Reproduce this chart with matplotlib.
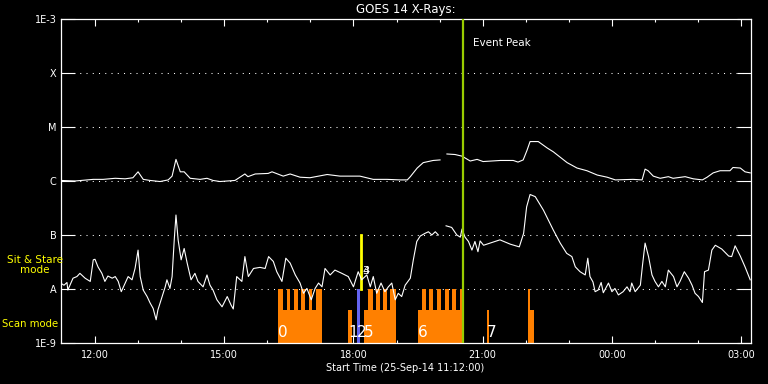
import matplotlib
matplotlib.use("Agg") #no display
import matplotlib.pyplot as plt
from matplotlib.ticker import FixedLocator, NullLocator
import numpy as np

# time in UT hours since 25-Sep-14 00:00 (values > 24 are next day), flux as log10(W/m^2)
long_t = [11.20, 11.54, 11.96, 12.19, 12.47, 12.70, 12.88, 13.00, 13.12, 13.28, 13.51, 13.70,
          13.79, 13.88, 13.98, 14.07, 14.21, 14.44, 14.60, 14.74, 14.90, 15.25, 15.48, 15.55,
          15.72, 16.02, 16.11, 16.37, 16.53, 16.76, 16.99, 17.39, 17.69, 18.15, 18.46, 18.78,
          19.08, 19.25, 19.32, 19.48, 19.62, 19.85, 20.01, 20.08, 20.17, 20.36, 20.52, 20.71,
          20.87, 21.01, 21.41, 21.71, 21.82, 21.94, 22.03, 22.10, 22.29, 22.50, 22.64, 22.80,
          22.96, 23.19, 23.42, 23.66, 23.89, 24.08, 24.49, 24.70, 24.77, 24.84, 24.96, 25.12,
          25.31, 25.42, 25.70, 25.89, 26.10, 26.21, 26.35, 26.51, 26.74, 26.81, 26.98, 27.09,
          27.21]
long_log = [-5.99, -6.00, -5.97, -5.97, -5.95, -5.96, -5.94, -5.83, -5.97, -5.99, -6.01, -5.98,
            -5.91, -5.60, -5.83, -5.83, -5.95, -5.97, -5.95, -5.99, -6.01, -5.99, -5.87, -5.92,
            -5.87, -5.86, -5.83, -5.91, -5.87, -5.93, -5.94, -5.88, -5.91, -5.91, -5.97, -5.97,
            -5.98, -5.98, -5.92, -5.76, -5.66, -5.62, -5.61, np.nan, -5.50, -5.51, -5.54, -5.63,
            -5.60, -5.64, -5.62, -5.62, -5.65, -5.61, -5.43, -5.27, -5.27, -5.39, -5.46, -5.56,
            -5.66, -5.76, -5.81, -5.89, -5.93, -5.98, -5.97, -5.98, -5.78, -5.81, -5.91, -5.95,
            -5.92, -5.95, -5.92, -5.96, -5.98, -5.93, -5.85, -5.81, -5.81, -5.75, -5.76, -5.83,
            -5.85]

short_t = [11.20, 11.28, 11.35, 11.37, 11.42, 11.49, 11.58, 11.65, 11.77, 11.89, 11.96, 12.00,
           12.07, 12.16, 12.23, 12.30, 12.40, 12.47, 12.54, 12.61, 12.70, 12.77, 12.86, 12.93,
           13.00, 13.05, 13.12, 13.21, 13.28, 13.35, 13.42, 13.46, 13.56, 13.63, 13.67, 13.74,
           13.79, 13.84, 13.88, 13.93, 14.00, 14.07, 14.14, 14.23, 14.32, 14.39, 14.51, 14.60,
           14.67, 14.74, 14.83, 14.95, 15.07, 15.16, 15.21, 15.29, 15.41, 15.48, 15.56, 15.68,
           15.83, 15.95, 16.03, 16.14, 16.22, 16.34, 16.43, 16.53, 16.65, 16.76, 16.84, 16.92,
           17.02, 17.11, 17.19, 17.27, 17.34, 17.46, 17.57, 17.73, 17.88, 18.00, 18.11, 18.19,
           18.31, 18.39, 18.46, 18.54, 18.64, 18.73, 18.81, 18.89, 18.97, 19.04, 19.12, 19.20,
           19.32, 19.39, 19.47, 19.55, 19.66, 19.74, 19.82, 19.90, 19.97, 20.08, 20.15, 20.28,
           20.40, 20.48, 20.52, 20.59, 20.67, 20.75, 20.82, 20.89, 20.94, 21.02, 21.17, 21.40,
           21.64, 21.85, 21.95, 22.02, 22.10, 22.22, 22.41, 22.64, 22.80, 22.95, 23.07, 23.15,
           23.26, 23.38, 23.44, 23.49, 23.56, 23.61, 23.68, 23.75, 23.80, 23.92, 24.00, 24.07,
           24.15, 24.26, 24.35, 24.42, 24.46, 24.54, 24.66, 24.71, 24.77, 24.85, 24.93, 25.00,
           25.08, 25.16, 25.24, 25.31, 25.43, 25.51, 25.58, 25.68, 25.78, 25.86, 25.93, 26.01,
           26.10, 26.15, 26.24, 26.32, 26.40, 26.55, 26.71, 26.78, 26.86, 26.98, 27.09, 27.21]
short_log = [-7.89, -7.93, -7.88, -8.02, -7.93, -7.80, -7.77, -7.71, -7.80, -7.86, -7.46, -7.45,
             -7.59, -7.71, -7.86, -7.76, -7.80, -7.77, -7.86, -8.05, -7.89, -7.77, -7.83, -7.62,
             -7.28, -7.77, -8.02, -8.14, -8.26, -8.36, -8.57, -8.39, -8.14, -7.96, -7.83, -7.99,
             -7.77, -7.09, -6.63, -7.09, -7.46, -7.25, -7.52, -7.83, -7.71, -7.86, -7.96, -7.74,
             -7.93, -8.02, -8.20, -8.33, -8.14, -8.30, -8.37, -7.77, -7.86, -7.40, -7.77, -7.62,
             -7.60, -7.62, -7.40, -7.49, -7.68, -7.86, -7.43, -7.52, -7.74, -7.89, -8.08, -7.99,
             -8.20, -7.99, -7.89, -7.96, -7.62, -7.74, -7.65, -7.71, -7.77, -7.96, -7.68, -7.83,
             -7.74, -7.96, -7.77, -8.08, -7.89, -8.05, -7.96, -7.89, -8.20, -8.08, -8.14, -7.93,
             -7.80, -7.46, -7.12, -7.02, -6.97, -6.94, -7.00, -6.94, -7.00, np.nan, -6.83, -6.86,
             -7.00, -7.04, -6.89, -7.04, -7.12, -7.28, -7.12, -7.31, -7.11, -7.19, -7.15, -7.09,
             -7.17, -7.22, -6.97, -6.48, -6.25, -6.29, -6.54, -6.91, -7.15, -7.34, -7.40, -7.59,
             -7.68, -7.74, -7.43, -7.77, -7.87, -8.05, -8.02, -7.88, -8.07, -7.89, -8.05, -7.99,
             -8.11, -8.05, -7.96, -8.05, -7.89, -8.05, -7.93, -7.56, -7.15, -7.40, -7.74, -7.86,
             -7.96, -7.86, -7.96, -7.65, -7.77, -7.96, -7.86, -7.68, -7.80, -7.93, -8.08, -8.14,
             -8.25, -7.68, -7.65, -7.28, -7.19, -7.26, -7.39, -7.40, -7.20, -7.39, -7.59, -7.83]

# observation blocks (hours)
scan_start = [16.250, 17.882, 18.247, 19.490, 21.103, 22.061]
scan_end = [17.272, 17.968, 18.990, 20.575, 21.149, 22.194]
stare_start = [16.250, 16.452, 16.622, 16.791, 16.963, 17.139, 18.340, 18.518, 18.688, 18.857,
               19.583, 19.763, 19.941, 20.120, 20.297, 20.476, 22.061]
stare_end = [16.359, 16.536, 16.714, 16.877, 17.046, 17.272, 18.449, 18.618, 18.788, 18.990,
             19.676, 19.856, 20.034, 20.213, 20.390, 20.575, 22.101]
obs_labels = ["0", "1", "2", "5", "6", "7"]
obs_label_t = [16.250, 17.882, 18.077, 18.247, 19.490, 21.103]
blue_start, blue_end = 18.077, 18.154
yellow_t = 18.177
event_peak_t = 20.545

xticks = [12, 15, 18, 21, 24, 27]
xticklabels = ["12:00", "15:00", "18:00", "21:00", "00:00", "03:00"]
yticks = [1e-9, 1e-8, 1e-7, 1e-6, 1e-5, 1e-4, 1e-3]
yticklabels = ["1E-9", "A", "B", "C", "M", "X", "1E-3"]

fig = plt.figure(figsize=(7.68, 3.84), dpi=100, facecolor="black")
ax = fig.add_axes([0.0788, 0.1068, 0.8987, 0.84375], facecolor="black")
ax.set_yscale("log")
ax.set_xlim(11.2, 27.222)
ax.set_ylim(1e-9, 1e-3)

base = 1e-9
low_top = 4.1e-9  # scan mode bar height
high_top = 1e-8   # sit & stare bar height
orange = "#ff8000"
ax.bar(scan_start, [low_top - base] * len(scan_start), width=np.subtract(scan_end, scan_start),
       bottom=base, align="edge", color=orange, linewidth=0, zorder=2)
ax.bar(stare_start, [high_top - base] * len(stare_start), width=np.subtract(stare_end, stare_start),
       bottom=base, align="edge", color=orange, linewidth=0, zorder=2)
ax.bar([blue_start], [high_top - base], width=blue_end - blue_start, bottom=base,
       align="edge", color="#6464f0", linewidth=0, zorder=2)
ax.plot([yellow_t, yellow_t], [1e-8, 1e-7], color="#ffff00", lw=2, zorder=3)

for lab, t in zip(obs_labels, obs_label_t):
  ax.text(t, 10**-8.8, lab, color="white", fontsize=11, ha="left", va="center", zorder=5)
ax.text(yellow_t + 0.02, 10**-7.67, "3", color="white", fontsize=8, ha="left", va="center", zorder=5)
ax.text(yellow_t + 0.02, 10**-7.67, "4", color="white", fontsize=8, ha="left", va="center", zorder=5)

ax.plot(long_t, 10**np.array(long_log), color="white", lw=0.8, zorder=4)
ax.plot(short_t, 10**np.array(short_log), color="white", lw=0.8, zorder=4)

ax.axvline(event_peak_t, color="#99cc00", lw=1.6, zorder=6)
ax.text(event_peak_t + 0.23, 10**-3.444, "Event Peak", color="white", fontsize=7.5,
        ha="left", va="center")

# dotted class levels
for lev in [1e-8, 1e-7, 1e-6, 1e-5, 1e-4]:
  ax.axhline(lev, color="white", lw=0.75, linestyle=(0, (1, 5)), zorder=1)

ax.xaxis.set_major_locator(FixedLocator(xticks))
ax.set_xticklabels(xticklabels)
ax.xaxis.set_minor_locator(FixedLocator(range(12, 28)))
ax.yaxis.set_major_locator(FixedLocator(yticks))
ax.yaxis.set_minor_locator(NullLocator())
ax.set_yticklabels(yticklabels)

ax.tick_params(axis="x", which="major", direction="in", length=5, width=0.8, colors="white",
               top=True, bottom=True, labelsize=7, pad=5)
ax.tick_params(axis="x", which="minor", direction="in", length=2.5, width=0.8, colors="white",
               top=True, bottom=True)
ax.tick_params(axis="y", which="major", direction="in", length=10, width=0.8, colors="white",
               left=True, right=True, labelsize=7, pad=3)
for s in ax.spines.values():
  s.set_color("white")
  s.set_linewidth(0.9)

ax.set_title("GOES 14 X-Rays:", color="white", fontsize=8.5, pad=4)
ax.set_xlabel("Start Time (25-Sep-14 11:12:00)", color="white", fontsize=7, labelpad=2)

fig.text(35 / 768, 1 - 265 / 384, "Sit & Stare\nmode", color="#ffff00", fontsize=7.5,
         ha="center", va="center", linespacing=1.1)
fig.text(2 / 768, 1 - 324 / 384, "Scan mode", color="#ffff00", fontsize=7.3,
         ha="left", va="center")

fig.savefig("out.png", dpi=100, facecolor="black")
